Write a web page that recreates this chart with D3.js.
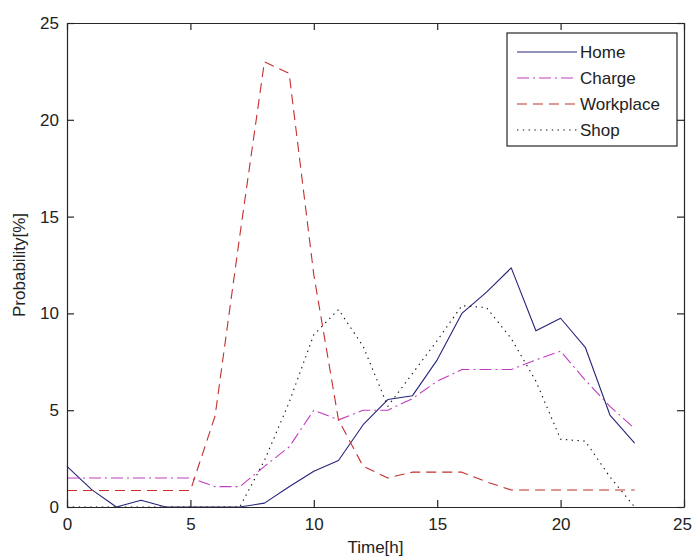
<!DOCTYPE html>
<html>
<head>
<meta charset="utf-8">
<script src="https://cdn.jsdelivr.net/npm/d3@7"></script>
<style>
  html, body { margin: 0; padding: 0; background: #fff; }
  svg { display: block; }
  text { font-family: "Liberation Sans", Arial, sans-serif; fill: #222; }
</style>
</head>
<body>
<svg id="chart" width="692" height="556"></svg>
<script>
// Hour of day
const hours = [0, 1, 2, 3, 4, 5, 6, 7, 8, 9, 10, 11, 12, 13, 14, 15, 16, 17, 18, 19, 20, 21, 22, 23];

// Probability [%] per location type and hour
const home      = [2.1, 0.9, 0, 0.35, 0, 0, 0, 0, 0.2, 1.05, 1.85, 2.4, 4.25, 5.55, 5.75, 7.6, 10.0, 11.1, 12.35, 9.1, 9.75, 8.25, 4.75, 3.3];
const charge    = [1.5, 1.5, 1.5, 1.5, 1.5, 1.5, 1.05, 1.05, 2.1, 3.1, 5.0, 4.5, 5.0, 5.0, 5.6, 6.5, 7.1, 7.1, 7.1, 7.6, 8.05, 6.55, 5.2, 4.05];
const workplace = [0.85, 0.85, 0.85, 0.85, 0.85, 0.85, 4.7, 14.0, 23.0, 22.4, 12.0, 4.5, 2.1, 1.5, 1.8, 1.8, 1.8, 1.3, 0.88, 0.88, 0.88, 0.88, 0.88, 0.88];
const shop      = [0, 0, 0, 0, 0, 0, 0, 0, 2.4, 5.4, 8.9, 10.2, 8.3, 5.2, 6.9, 8.6, 10.4, 10.3, 8.7, 6.5, 3.5, 3.4, 1.55, 0];

const seriesNames = ["Home", "Charge", "Workplace", "Shop"];
const seriesValues = [home, charge, workplace, shop];

const xTicks = [0, 5, 10, 15, 20, 25];
const yTicks = [0, 5, 10, 15, 20, 25];
const xTitle = "Time[h]";
const yTitle = "Probability[%]";

// Line styles for each series
const styles = [
  { color: "#24247a", dash: null },
  { color: "#c23cc2", dash: "12,4,2,4" },
  { color: "#c42f2f", dash: "10,6" },
  { color: "#111111", dash: "1.4,4.4" }
];

const svg = d3.select("#chart");
const fontSize = 17;

const x = d3.scaleLinear().domain([0, 25]).range([67, 684]);
const y = d3.scaleLinear().domain([0, 25]).range([507, 23]);

// Plot area background
svg.append("rect")
  .attr("x", x(0)).attr("y", y(25))
  .attr("width", x(25) - x(0)).attr("height", y(0) - y(25))
  .attr("fill", "#fff");

// Series lines
const line = d3.line()
  .x((d, i) => x(hours[i]))
  .y(d => y(d));

seriesValues.forEach((vals, k) => {
  svg.append("path")
    .datum(vals)
    .attr("d", line)
    .attr("fill", "none")
    .attr("stroke", styles[k].color)
    .attr("stroke-width", 1.1)
    .attr("stroke-dasharray", styles[k].dash)
    .attr("stroke-linejoin", "round");
});

// Axes: ticks point inwards on all four sides
function styleAxis(g) {
  g.selectAll("path.domain").attr("stroke", "#262626").attr("stroke-width", 1.2);
  g.selectAll(".tick line").attr("stroke", "#262626").attr("stroke-width", 1.2);
  g.selectAll(".tick text")
    .style("font-family", "'Liberation Sans', Arial, sans-serif")
    .style("font-size", fontSize + "px")
    .attr("fill", "#222");
}

const xAxisG = svg.append("g")
  .attr("transform", `translate(0,${y(0)})`)
  .call(d3.axisBottom(x).tickValues(xTicks).tickSizeInner(-7).tickSizeOuter(0).tickPadding(11))
  .call(styleAxis);

// keep the last tick label inside the canvas
xAxisG.selectAll(".tick text")
  .filter(d => d === xTicks[xTicks.length - 1])
  .attr("dx", -2);

svg.append("g")
  .attr("transform", `translate(0,${y(25)})`)
  .call(d3.axisTop(x).tickValues(xTicks).tickSizeInner(-7).tickSizeOuter(0).tickFormat(""))
  .call(styleAxis);

svg.append("g")
  .attr("transform", `translate(${x(0)},0)`)
  .call(d3.axisLeft(y).tickValues(yTicks).tickSizeInner(-7).tickSizeOuter(0).tickPadding(8))
  .call(styleAxis);

svg.append("g")
  .attr("transform", `translate(${x(25)},0)`)
  .call(d3.axisRight(y).tickValues(yTicks).tickSizeInner(-7).tickSizeOuter(0).tickFormat(""))
  .call(styleAxis);

// Axis titles
svg.append("text")
  .attr("x", (x(0) + x(25)) / 2)
  .attr("y", 553)
  .attr("text-anchor", "middle")
  .style("font-size", fontSize + "px")
  .text(xTitle);

svg.append("text")
  .attr("transform", `translate(25,${(y(0) + y(25)) / 2}) rotate(-90)`)
  .attr("text-anchor", "middle")
  .style("font-size", fontSize + "px")
  .text(yTitle);

// Legend
const legend = svg.append("g");
legend.append("rect")
  .attr("x", 507).attr("y", 33)
  .attr("width", 170).attr("height", 113)
  .attr("fill", "#fff")
  .attr("stroke", "#262626")
  .attr("stroke-width", 1.2);

seriesNames.forEach((name, k) => {
  const cy = 52 + k * 26;
  legend.append("line")
    .attr("x1", 517).attr("x2", 577)
    .attr("y1", cy).attr("y2", cy)
    .attr("stroke", styles[k].color)
    .attr("stroke-width", 1.1)
    .attr("stroke-dasharray", styles[k].dash);
  legend.append("text")
    .attr("x", 580).attr("y", cy)
    .attr("dy", "0.36em")
    .style("font-size", fontSize + "px")
    .text(name);
});
</script>
</body>
</html>
